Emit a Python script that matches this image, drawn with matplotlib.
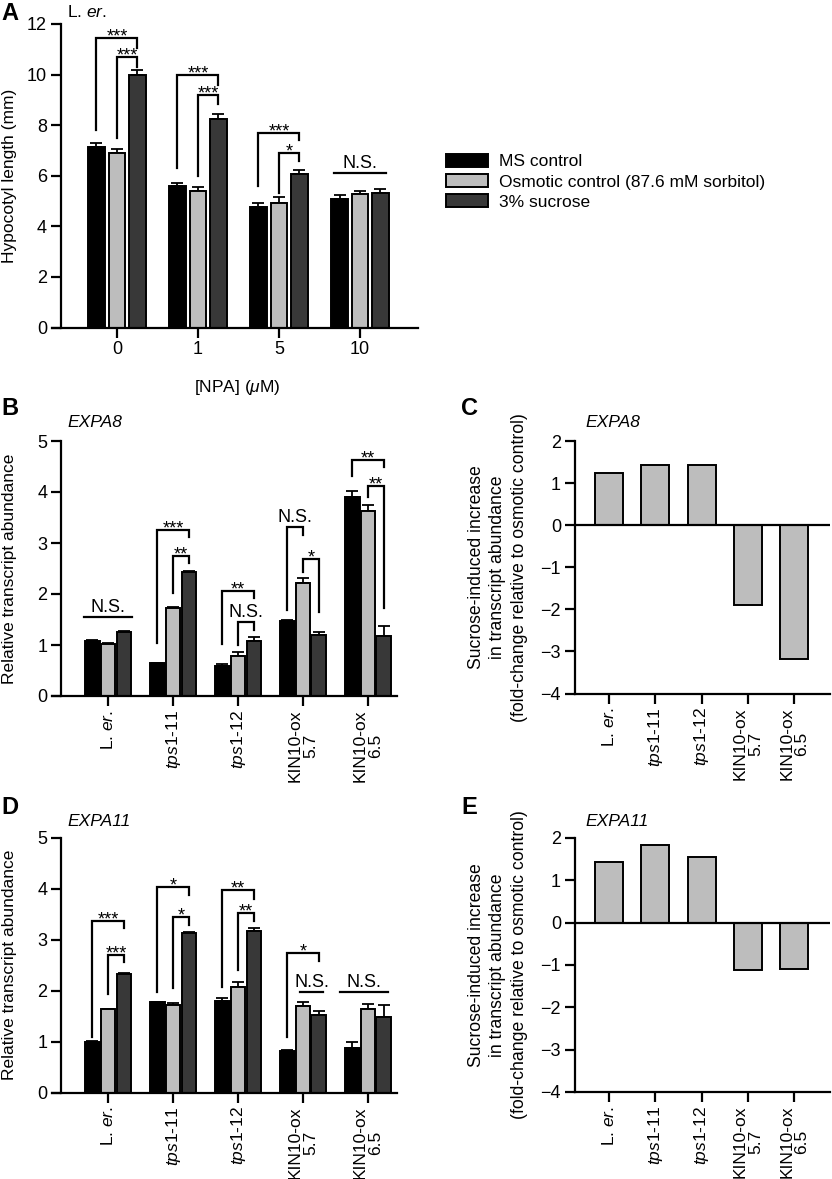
import numpy as np
import matplotlib
matplotlib.use('Agg')
import matplotlib.pyplot as plt

plt.rcParams['font.family'] = ['Liberation Sans', 'DejaVu Sans']
plt.rcParams['mathtext.fontset'] = 'custom'
plt.rcParams['mathtext.rm'] = 'Liberation Sans'
plt.rcParams['mathtext.it'] = 'Liberation Sans:italic'
plt.rcParams['mathtext.bf'] = 'Liberation Sans:bold'

## Data
series = ['MS control', 'Osmotic control (87.6 mM sorbitol)', '3% sucrose']
colors = ['#000000', '#bdbdbd', '#383838']

npa = ['0', '1', '5', '10']
hyp_mean = [[7.14, 5.58, 4.76, 5.07],
            [6.90, 5.40, 4.92, 5.27],
            [9.97, 8.25, 6.05, 5.31]]
hyp_err = [[0.16, 0.15, 0.18, 0.18],
           [0.17, 0.16, 0.24, 0.13],
           [0.21, 0.21, 0.19, 0.16]]

lines = ['L. $\\mathit{er.}$', '$\\mathit{tps1}$-11', '$\\mathit{tps1}$-12',
         'KIN10-ox\n5.7', 'KIN10-ox\n6.5']

expa8_mean = [[1.08, 0.64, 0.59, 1.47, 3.90],
              [1.02, 1.72, 0.79, 2.21, 3.63],
              [1.25, 2.43, 1.08, 1.19, 1.17]]
expa8_err = [[0.02, 0.0, 0.04, 0.02, 0.11],
             [0.01, 0.03, 0.08, 0.10, 0.11],
             [0.02, 0.03, 0.07, 0.07, 0.21]]

expa11_mean = [[1.00, 1.77, 1.80, 0.82, 0.88],
               [1.64, 1.72, 2.08, 1.69, 1.64],
               [2.32, 3.13, 3.17, 1.52, 1.49]]
expa11_err = [[0.01, 0.0, 0.05, 0.01, 0.12],
              [0.01, 0.03, 0.10, 0.09, 0.10],
              [0.02, 0.03, 0.06, 0.09, 0.23]]

fold8 = [1.24, 1.44, 1.42, -1.90, -3.19]
fold11 = [1.43, 1.84, 1.54, -1.11, -1.09]

## significance brackets: group, bar a, bar b, leg a end, top, leg b end, label
A_brackets = [(0, 0, 2, 7.8, 11.45, 11.05, '***'),
              (0, 1, 2, 7.5, 10.7, 10.3, '***'),
              (1, 0, 2, 6.3, 10.0, 9.6, '***'),
              (1, 1, 2, 6.0, 9.2, 8.85, '***'),
              (2, 0, 2, 5.6, 7.7, 7.4, '***'),
              (2, 1, 2, 5.3, 6.9, 6.6, '*')]
A_ns = [(3, -1.25, 1.25, 6.1)]

B_brackets = [(1, 0, 2, 1.03, 3.26, 3.11, '***'),
              (1, 1, 2, 2.02, 2.75, 2.61, '**'),
              (2, 0, 2, 1.01, 2.06, 1.92, '**'),
              (2, 1, 2, 1.0, 1.46, 1.3, 'N.S.'),
              (3, 0, 1, 1.69, 3.31, 3.16, 'N.S.'),
              (3, 1, 2, 2.44, 2.69, 1.65, '*'),
              (4, 0, 2, 4.31, 4.62, 4.5, '**'),
              (4, 1, 2, 3.91, 4.12, 1.72, '**')]
B_ns = [(0, -1.5, 1.5, 1.55)]

D_brackets = [(0, 0, 2, 1.1, 3.36, 3.23, '***'),
              (0, 1, 2, 1.94, 2.71, 2.57, '***'),
              (1, 0, 2, 1.97, 4.04, 3.88, '*'),
              (1, 1, 2, 2.05, 3.45, 3.30, '*'),
              (2, 0, 2, 2.07, 3.98, 3.81, '**'),
              (2, 1, 2, 2.41, 3.52, 3.36, '**'),
              (3, 0, 2, 1.1, 2.75, 2.59, '*')]
D_ns = [(3, -0.2, 1.3, 1.97), (4, -1.8, 1.3, 1.97)]

W, H = 832, 1179
fig = plt.figure(figsize=(W / 100, H / 100), dpi=100)


def px_axes(left, top, right, bottom):
    return fig.add_axes([left / W, 1 - bottom / H, (right - left) / W, (bottom - top) / H])


def style(ax):
    ax.spines['top'].set_visible(False)
    ax.spines['right'].set_visible(False)
    for s in ['left', 'bottom']:
        ax.spines[s].set_linewidth(1.6)
    ax.tick_params(direction='out', length=7, width=1.6, labelsize=13, pad=3)


def grouped(ax, means, errs, width, step):
    x = np.arange(len(means[0]))
    bars = []
    for i in range(3):
        xi = x + (i - 1) * step
        b = ax.bar(xi, means[i], width, color=colors[i], edgecolor='black',
                   linewidth=1.4, zorder=2, label=series[i])
        ax.errorbar(xi, means[i], yerr=[np.zeros(len(xi)), errs[i]], fmt='none',
                    ecolor='black', elinewidth=1.3, capsize=4.5, capthick=1.3, zorder=1)
        bars.append(b)
    return bars


def brackets(ax, specs, ns, step):
    for g, a, b, ya, top, yb, lab in specs:
        xa = g + (a - 1) * step
        xb = g + (b - 1) * step
        ax.plot([xa, xa, xb, xb], [ya, top, top, yb], color='black', lw=1.6,
                solid_joinstyle='miter', clip_on=False, zorder=3)
        if lab == 'N.S.':
            ax.annotate(lab, ((xa + xb) / 2, top), xytext=(0, 3.5), textcoords='offset points',
                        ha='center', va='baseline', fontsize=13)
        else:
            ax.annotate(lab, ((xa + xb) / 2, top), xytext=(0, -2.5), textcoords='offset points',
                        ha='center', va='baseline', fontsize=13)
    for g, l, r, y in ns:
        ax.plot([g + l * step, g + r * step], [y, y], color='black', lw=1.6, clip_on=False)
        ax.annotate('N.S.', (g + (l + r) / 2 * step, y), xytext=(0, 3.5),
                    textcoords='offset points', ha='center', va='baseline', fontsize=13)


## Panel A
axA = px_axes(52, 24, 418, 327.5)
style(axA)
bars = grouped(axA, hyp_mean, hyp_err, 0.204, 0.253)
brackets(axA, A_brackets, A_ns, 0.253)
axA.set_xlim(-0.802, 3.716)
axA.set_ylim(0, 12)
axA.spines['left'].set_position(('data', -0.691))
axA.set_yticks(range(0, 13, 2))
axA.set_xticks(range(4))
axA.set_xticklabels(npa)
axA.set_ylabel('Hypocotyl length (mm)', fontsize=12.5)
axA.yaxis.set_label_coords((17 - 52) / 366, 0.5)
fig.text(237 / W, 1 - 392 / H, '[NPA] ($\\mathit{\\mu}$M)', ha='center', va='baseline', fontsize=12.5)

fig.legend(handles=bars, labels=series, loc='upper left', bbox_to_anchor=(446 / W, 1 - 154 / H),
           frameon=False, fontsize=12.5, handlelength=2.4, handleheight=0.75,
           handletextpad=0.65, labelspacing=0.27, borderpad=0, borderaxespad=0)


def expr_panel(top, bottom, means, errs, specs, ns):
    ax = px_axes(52, top, 397, bottom)
    style(ax)
    grouped(ax, means, errs, 0.223, 0.242)
    brackets(ax, specs, ns, 0.242)
    ax.set_xlim(-0.862, 4.446)
    ax.set_ylim(0, 5)
    ax.spines['left'].set_position(('data', -0.723))
    ax.set_yticks(range(6))
    ax.set_xticks(range(5))
    ax.set_xticklabels(lines, rotation=90, fontsize=12.5, linespacing=1.0)
    ax.set_ylabel('Relative transcript abundance', fontsize=12.5)
    ax.yaxis.set_label_coords((17 - 52) / 345, 0.5)
    return ax


def fold_panel(top, bottom, vals):
    ax = px_axes(575, top, 830, bottom)
    style(ax)
    ax.bar(range(5), vals, 0.6, color='#bdbdbd', edgecolor='black', linewidth=1.4, zorder=2)
    ax.axhline(0, color='black', lw=1.6, zorder=3)
    ax.set_xlim(-0.734, 4.77)
    ax.set_ylim(-4, 2)
    ax.set_yticks(range(-4, 3))
    ax.set_xticks(range(5))
    ax.set_xticklabels(lines, rotation=90, fontsize=12.5, linespacing=1.0)
    ax.set_ylabel('Sucrose-induced increase\nin transcript abundance\n'
                  '(fold-change relative to osmotic control)', fontsize=12.7, linespacing=1.35)
    ax.yaxis.set_label_coords((528 - 575) / 255, 0.5)
    return ax


axB = expr_panel(441, 696, expa8_mean, expa8_err, B_brackets, B_ns)
axD = expr_panel(838, 1092.5, expa11_mean, expa11_err, D_brackets, D_ns)
axC = fold_panel(441, 693.5, fold8)
axE = fold_panel(838, 1092, fold11)

## Panel letters and titles
def ftext(x, y, s, **kw):
    fig.text(x / W, 1 - y / H, s, va='baseline', **kw)

ftext(1, 20, 'A', fontsize=17, fontweight='bold')
ftext(1, 415, 'B', fontsize=17, fontweight='bold')
ftext(461, 415, 'C', fontsize=17, fontweight='bold')
ftext(1, 814, 'D', fontsize=17, fontweight='bold')
ftext(461, 814, 'E', fontsize=17, fontweight='bold')
ftext(67, 17, 'L. $\\mathit{er.}$', fontsize=12.5)
ftext(67, 427, 'EXPA8', fontsize=12.5, style='italic')
ftext(585, 427, 'EXPA8', fontsize=12.5, style='italic')
ftext(67, 826, 'EXPA11', fontsize=12.5, style='italic')
ftext(585, 826, 'EXPA11', fontsize=12.5, style='italic')

fig.savefig('out.png', dpi=100)
